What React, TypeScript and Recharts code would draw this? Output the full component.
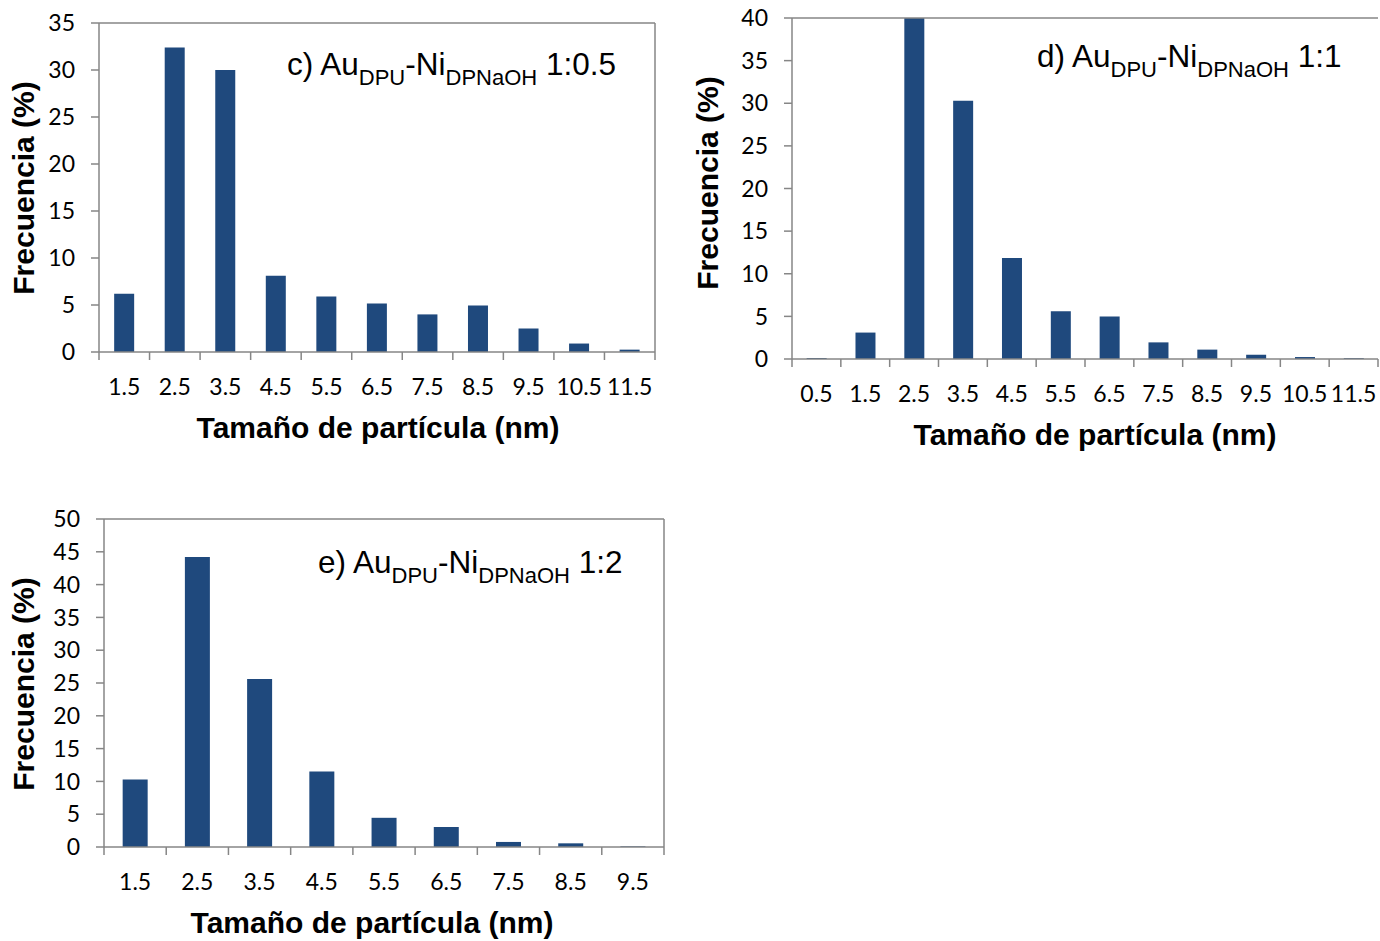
import React from "react";
import { Bar, BarChart, ReferenceLine, XAxis, YAxis } from "recharts";

const sizesC = ["1.5", "2.5", "3.5", "4.5", "5.5", "6.5", "7.5", "8.5", "9.5", "10.5", "11.5"];
const freqC = [6.2, 32.4, 30.0, 8.1, 5.9, 5.15, 4.0, 4.95, 2.5, 0.9, 0.25];
const ticksC = [0, 5, 10, 15, 20, 25, 30, 35];

const sizesD = ["0.5", "1.5", "2.5", "3.5", "4.5", "5.5", "6.5", "7.5", "8.5", "9.5", "10.5", "11.5"];
const freqD = [0.12, 3.1, 40, 30.3, 11.85, 5.6, 5.0, 1.95, 1.1, 0.5, 0.23, 0.1];
const ticksD = [0, 5, 10, 15, 20, 25, 30, 35, 40];

const sizesE = ["1.5", "2.5", "3.5", "4.5", "5.5", "6.5", "7.5", "8.5", "9.5"];
const freqE = [10.3, 44.2, 25.6, 11.5, 4.45, 3.05, 0.77, 0.56, 0.1];
const ticksE = [0, 5, 10, 15, 20, 25, 30, 35, 40, 45, 50];

const BAR = "#1f497d";
const AXIS = "#868686";
const TICK_FONT = "Lato, 'Open Sans', sans-serif";
const TITLE_FONT = "'Liberation Sans', Arial, sans-serif";

const BandTick = (props: any) => {
  const { x, y, payload, index, count, band } = props;
  return (
    <g>
      <line x1={x - band / 2} x2={x - band / 2} y1={y} y2={y + 8} stroke={AXIS} strokeWidth={1.5} />
      {index === count - 1 && (
        <line x1={x + band / 2} x2={x + band / 2} y1={y} y2={y + 8} stroke={AXIS} strokeWidth={1.5} />
      )}
      <text
        x={x}
        y={y + 34}
        textAnchor="middle"
        dominantBaseline="central"
        fontFamily={TICK_FONT}
        fontSize={23}
        fill="#000"
      >
        {payload.value}
      </text>
    </g>
  );
};

function Histogram({
  left, top, width, height, margin, xHeight, sizes, freq, ticks
}: {
  left: number; top: number; width: number; height: number;
  margin: { top: number; right: number; left: number; bottom: number };
  xHeight: number; sizes: string[]; freq: number[]; ticks: number[];
}) {
  const data = sizes.map((s, i) => ({ size: s, freq: freq[i] }));
  const max = ticks[ticks.length - 1];
  const plotW = width - margin.left - margin.right - 60;
  const band = plotW / sizes.length;
  return (
    <div style={{ position: "absolute", left, top }}>
      <BarChart width={width} height={height} data={data} margin={margin} barCategoryGap="30%">
        <XAxis
          dataKey="size"
          height={xHeight}
          interval={0}
          tickSize={0}
          tickMargin={0}
          tickLine={false}
          axisLine={{ stroke: AXIS, strokeWidth: 1.5 }}
          tick={<BandTick count={sizes.length} band={band} />}
        />
        <YAxis
          yAxisId="l"
          width={60}
          domain={[0, max]}
          ticks={ticks}
          interval={0}
          tickSize={8}
          tickMargin={16}
          axisLine={{ stroke: AXIS, strokeWidth: 1.5 }}
          tickLine={{ stroke: AXIS, strokeWidth: 1.5 }}
          tick={{ fontFamily: TICK_FONT, fontSize: 23, fill: "#000" }}
        />
        <ReferenceLine yAxisId="l" y={max} stroke={AXIS} strokeWidth={1.5} />
        <ReferenceLine yAxisId="l" x={sizes[sizes.length - 1]} position="end" stroke={AXIS} strokeWidth={1.5} />
        <Bar yAxisId="l" dataKey="freq" fill={BAR} isAnimationActive={false} />
      </BarChart>
    </div>
  );
}

const Title = ({ left, baseline, label, ratio }: { left: number; baseline: number; label: string; ratio: string }) => (
  <div
    style={{
      position: "absolute", left, top: baseline - 26.7, fontFamily: TITLE_FONT,
      fontSize: 31.5, lineHeight: 1, whiteSpace: "nowrap", color: "#000"
    }}
  >
    {label} Au<span style={{ fontSize: 22, verticalAlign: -10 }}>DPU</span>-Ni
    <span style={{ fontSize: 22, verticalAlign: -10 }}>DPNaOH</span> {ratio}
  </div>
);

const AxisTitle = ({ cx, cy, text, vertical }: { cx: number; cy: number; text: string; vertical?: boolean }) => (
  <div
    style={{
      position: "absolute", left: cx, top: cy, fontFamily: TITLE_FONT, fontWeight: "bold",
      fontSize: 30, lineHeight: 1, whiteSpace: "nowrap", color: "#000",
      transform: `translate(-50%, -50%)${vertical ? " rotate(-90deg)" : ""}`
    }}
  >
    {text}
  </div>
);

export default function App() {
  return (
    <div style={{ position: "absolute", left: 0, top: 0, width: 1380, height: 941, background: "#fff", overflow: "hidden" }}>
      <Histogram
        left={0} top={0} width={665} height={460}
        margin={{ top: 23, right: 10, left: 39, bottom: 0 }} xHeight={108}
        sizes={sizesC} freq={freqC} ticks={ticksC}
      />
      <Histogram
        left={700} top={0} width={680} height={470}
        margin={{ top: 18, right: 2, left: 32, bottom: 0 }} xHeight={111}
        sizes={sizesD} freq={freqD} ticks={ticksD}
      />
      <Histogram
        left={0} top={495} width={674} height={440}
        margin={{ top: 24, right: 10, left: 44, bottom: 0 }} xHeight={88}
        sizes={sizesE} freq={freqE} ticks={ticksE}
      />
      <Title left={287} baseline={76} label="c)" ratio="1:0.5" />
      <Title left={1037} baseline={68} label="d)" ratio="1:1" />
      <Title left={318} baseline={574} label="e)" ratio="1:2" />
      <AxisTitle cx={378} cy={428} text="Tamaño de partícula (nm)" />
      <AxisTitle cx={1095} cy={435} text="Tamaño de partícula (nm)" />
      <AxisTitle cx={372} cy={923} text="Tamaño de partícula (nm)" />
      <AxisTitle cx={24} cy={188} text="Frecuencia (%)" vertical />
      <AxisTitle cx={708} cy={183} text="Frecuencia (%)" vertical />
      <AxisTitle cx={24} cy={684} text="Frecuencia (%)" vertical />
    </div>
  );
}
